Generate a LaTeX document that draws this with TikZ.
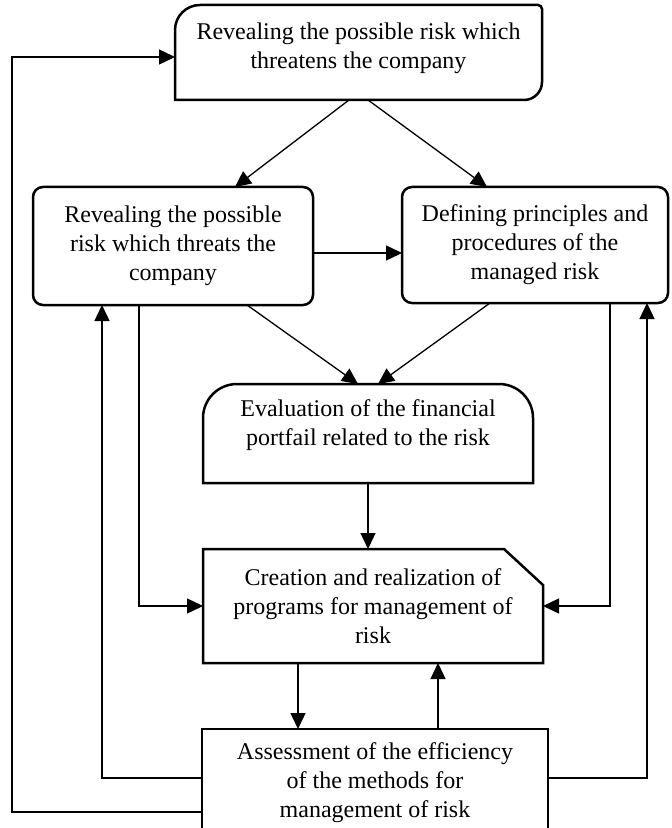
\documentclass[tikz,border=0pt]{standalone}
\usepackage{fontspec}
\setmainfont{Liberation Serif}
\usetikzlibrary{arrows.meta,calc}

\begin{document}
\begin{tikzpicture}[x=0.5pt, y=-0.5pt,
        every node/.style={font=\fontsize{12}{14.5}\selectfont, align=center, inner sep=0pt, outer sep=0pt},
        frame/.style={draw, line width=1.25pt},
        arrow/.style={-{Triangle[length=8pt, width=7.5pt]}, line width=0.65pt},
        link/.style={line width=0.65pt}
    ]
    \useasboundingbox (0,0) rectangle (672,828);
    \node[minimum width=183.5pt, minimum height=47.5pt, text depth=7pt] (risk) at (358.5,52.5) {Revealing the possible risk which\\threatens the company};
    \node[frame, rounded corners=5pt, minimum width=140pt, minimum height=59pt] (reveal) at (173,246) {Revealing the possible\\risk which threats the\\company};
    \node[frame, rounded corners=5pt, minimum width=133pt, minimum height=58pt] (define) at (535,245) {Defining principles and\\procedures of the\\managed risk};
    \node[minimum width=165pt, minimum height=49.5pt, text depth=10.5pt] (eval) at (368,433.5) {Evaluation of the financial\\portfail related to the risk};
    \node[minimum width=170pt, minimum height=57pt] (plan) at (373,606) {Creation and realization of\\programs for management of\\risk};
    \node[frame, minimum width=173pt, minimum height=54pt] (assess) at (375,783) {Assessment of the efficiency\\of the methods for\\management of risk};
    \coordinate (corner) at (12,57);
    \draw[frame] (risk.south west) -- ([yshift=-12.5pt]risk.north west) arc[start angle=180, end angle=90, radius=12.5pt]
        -- ([xshift=-2pt]risk.north east) arc[start angle=90, end angle=0, radius=2pt]
        -- ([yshift=9pt]risk.south east) arc[start angle=0, end angle=-90, radius=9pt] -- cycle;
    \draw[frame] (eval.south west) -- ([yshift=-17pt]eval.north west) arc[start angle=180, end angle=90, radius=17pt]
        -- ([xshift=-17pt]eval.north east) arc[start angle=90, end angle=0, radius=17pt]
        -- (eval.south east) -- cycle;
    \draw[frame] (plan.south west) -- (plan.north west) -- ([xshift=-19.5pt]plan.north east)
        -- ([yshift=-18pt]plan.north east) -- (plan.south east) -- cycle;
    \draw[arrow] ([xshift=-4.75pt]risk.south) -- ([xshift=31pt]reveal.north);
    \draw[arrow] ([xshift=4.75pt]risk.south) -- ([xshift=-24pt]define.north);
    \draw[arrow] ([yshift=-3.5pt]reveal.east) -- ([yshift=-4pt]define.west);
    \draw[arrow] ([xshift=37pt]reveal.south) -- ([xshift=-5pt]eval.north);
    \draw[arrow] ([xshift=-22.5pt]define.south) -- ([xshift=5pt]eval.north);
    \draw[arrow] (eval.south) -- (eval.south |- plan.north);
    \draw[arrow] ([xshift=-17pt]reveal.south) |- (plan.west);
    \draw[arrow] ([xshift=37.5pt]define.south) |- (plan.east);
    \draw[arrow] ([xshift=-37.5pt]plan.south) -- ([xshift=-38.5pt]assess.north);
    \draw[arrow] ([xshift=31.5pt]assess.north) -- ([xshift=32.5pt]plan.south);
    \draw[arrow] ([yshift=2.5pt]assess.west) -| ([xshift=-35.5pt]reveal.south);
    \draw[arrow] ([yshift=2.5pt]assess.east) -| ([xshift=56pt]define.south);
    \draw[arrow] ([yshift=-14.5pt]assess.west) -| (corner) -- ([yshift=-2.25pt]risk.west);
\end{tikzpicture}
\end{document}
